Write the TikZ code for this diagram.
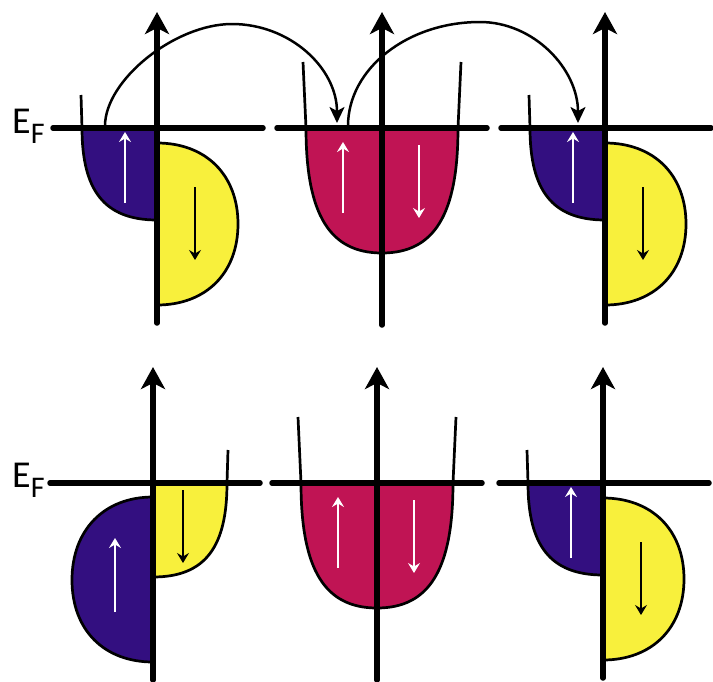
\documentclass[tikz,border=0pt]{standalone}
\usepackage{fontspec}
\setmainfont{Carlito}
\usetikzlibrary{arrows.meta}
\definecolor{spinblue}{RGB}{51,15,128}
\definecolor{spinmag}{RGB}{192,20,84}
\definecolor{spinyel}{RGB}{248,240,60}
\tikzset{
  outl/.style={line width=2.7pt, line join=round},
  efline/.style={line width=5.5pt, line cap=round},
  axisline/.style={line width=5.5pt, line cap=round, -{Stealth[length=22pt,width=24pt,inset=6pt]}},
  whitearr/.style={white, line width=2.8pt, -{Stealth[length=10pt,width=12pt,inset=3.5pt]}},
  blackarr/.style={black, line width=2.8pt, -{Stealth[length=10pt,width=12pt,inset=3.5pt]}},
  hop/.style={line width=2.5pt, -{Stealth[length=16pt,width=15pt,inset=4pt]}},
  eflabel/.style={anchor=base west, inner sep=0pt, font=\fontsize{38}{38}\selectfont},
  pics/majorup/.style={code={
    \fill[spinblue] (-75,0) -- (0,0) -- (0,92) .. controls (-53,92) and (-75,62) .. (-75,0) -- cycle;
    \draw[outl] (-76,-33) -- (-75,0) .. controls (-75,62) and (-53,92) .. (0,92);
    \filldraw[fill=spinyel, outl] (0,15) .. controls (49,15) and (81,47) .. (81,96) .. controls (81,145) and (49,177) .. (0,177);
    \draw[efline] (-104,0) -- (106,0);
    \draw[axisline] (0,195) -- (0,-116);
    \draw[whitearr] (-32,75) -- (-32,4);
    \draw[blackarr] (38,59) -- (38,132);
  }},
  pics/minorup/.style={code={
    \fill[spinyel] (0,0) -- (74,0) .. controls (74,63) and (53,94) .. (0,94) -- cycle;
    \draw[outl] (75,-33) -- (74,0) .. controls (74,63) and (53,94) .. (0,94);
    \filldraw[fill=spinblue, outl] (0,14) .. controls (-49,14) and (-81,47) .. (-81,97) .. controls (-81,147) and (-49,179) .. (0,179);
    \draw[efline] (-103,0) -- (107,0);
    \draw[axisline] (0,197) -- (0,-116);
    \draw[whitearr] (-38,129) -- (-38,55);
    \draw[blackarr] (30,7) -- (30,80);
  }},
  pics/para/.style={code={
    \fill[spinmag] (-76,0) -- (76,0) .. controls (76,87) and (52,125) .. (0,125) .. controls (-52,125) and (-76,87) .. (-76,0) -- cycle;
    \draw[outl] (-79,-66) -- (-76,0) .. controls (-76,87) and (-52,125) .. (0,125) .. controls (52,125) and (76,87) .. (76,0) -- (79,-66);
    \draw[efline] (-105,0) -- (105,0);
    \draw[axisline] (0,197) -- (0,-116);
    \draw[whitearr] (-39,85) -- (-39,14);
    \draw[whitearr] (37,17) -- (37,90);
  }}
}
\begin{document}
\begin{tikzpicture}[x=1pt,y=-1pt]
\useasboundingbox (0,0) rectangle (713,681);
% top row
\pic at (157,128) {majorup};
\pic at (382,128) {para};
\pic at (605,128) {majorup};
% bottom row
\pic at (153,483) {minorup};
\pic at (377,483) {para};
\pic at (603,483) {majorup};
% labels
\node[eflabel] (ef1) at (12,133) {E\raisebox{-10pt}{\fontsize{30}{30}\selectfont F}};
\node[eflabel] (ef2) at (12,487) {E\raisebox{-10pt}{\fontsize{30}{30}\selectfont F}};
% hopping arrows
\coordinate (s1) at (105,126);
\coordinate (p1) at (232,24);
\coordinate (e1) at (337,123);
\coordinate (s2) at (348,126);
\coordinate (p2) at (480,22);
\coordinate (e2) at (578,123);
\draw[hop] (s1) .. controls (105,80) and (175,24) .. (p1) .. controls (290,24) and (337,68) .. (e1);
\draw[hop] (s2) .. controls (348,69) and (407,22) .. (p2) .. controls (534,22) and (578,69) .. (e2);
\end{tikzpicture}
\end{document}
